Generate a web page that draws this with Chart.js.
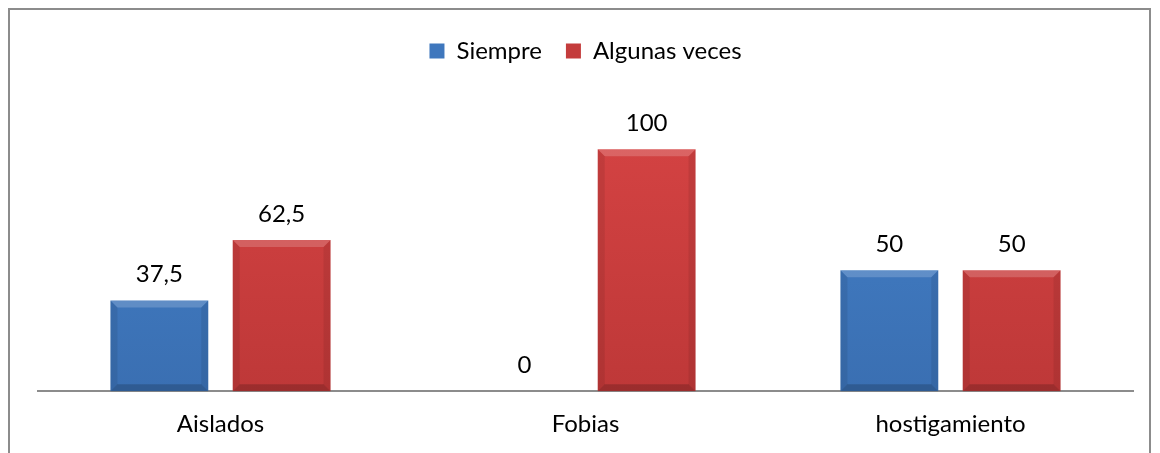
<!DOCTYPE html>
<html>
<head>
<meta charset="utf-8">
<script src="https://cdn.jsdelivr.net/npm/chart.js@4"></script>
<style>
  html, body { margin: 0; padding: 0; background: #fff; }
  #wrap { width: 1160px; height: 453px; position: relative; }
</style>
</head>
<body>
<div id="wrap"><canvas id="chart" width="1160" height="453"></canvas></div>
<script>
const categories = ["Aislados", "Fobias", "hostigamiento"];
const siempre = [37.5, 0, 50];
const algunasVeces = [62.5, 100, 50];
const seriesNames = ["Siempre", "Algunas veces"];

const FONT = "Lato, 'Open Sans', sans-serif";

// outer frame (top, left, right only — bottom is cut off in the picture)
const framePlugin = {
  id: 'frame',
  beforeDraw(chart) {
    const c = chart.ctx;
    c.save();
    c.strokeStyle = '#8c8c8c';
    c.lineWidth = 2;
    c.beginPath();
    c.moveTo(9, 460);
    c.lineTo(9, 9);
    c.lineTo(1150, 9);
    c.lineTo(1150, 460);
    c.stroke();
    c.restore();
  }
};

// bevelled edges on the bars
const bevelPlugin = {
  id: 'bevel',
  afterDatasetsDraw(chart) {
    const c = chart.ctx;
    chart.data.datasets.forEach((ds, i) => {
      chart.getDatasetMeta(i).data.forEach(bar => {
        const l = bar.x - bar.width / 2, r = bar.x + bar.width / 2;
        const t = bar.y, b = bar.base;
        if (b - t < 2) return;
        const d = Math.min(7, (b - t) / 2);
        c.save();
        c.fillStyle = 'rgba(255,255,255,0.18)';
        c.beginPath(); c.moveTo(l, t); c.lineTo(r, t); c.lineTo(r - d, t + d); c.lineTo(l + d, t + d); c.fill();
        c.fillStyle = 'rgba(0,0,0,0.08)';
        c.beginPath(); c.moveTo(l, t); c.lineTo(l + d, t + d); c.lineTo(l + d, b - d); c.lineTo(l, b); c.fill();
        c.beginPath(); c.moveTo(r, t); c.lineTo(r - d, t + d); c.lineTo(r - d, b - d); c.lineTo(r, b); c.fill();
        c.fillStyle = 'rgba(0,0,0,0.18)';
        c.beginPath(); c.moveTo(l, b); c.lineTo(l + d, b - d); c.lineTo(r - d, b - d); c.lineTo(r, b); c.fill();
        c.restore();
      });
    });
  }
};

// value labels above each bar, with decimal comma
const valueLabels = {
  id: 'valueLabels',
  afterDatasetsDraw(chart) {
    const c = chart.ctx;
    c.save();
    c.font = "24px " + FONT;
    c.fillStyle = '#000';
    c.textAlign = 'center';
    c.textBaseline = 'alphabetic';
    chart.data.datasets.forEach((ds, i) => {
      chart.getDatasetMeta(i).data.forEach((bar, j) => {
        const txt = String(ds.data[j]).replace('.', ',');
        c.fillText(txt, bar.x, bar.y - 18);
      });
    });
    c.restore();
  }
};

function vertGrad(top, bottom) {
  return function (context) {
    const area = context.chart.chartArea;
    if (!area) return top;
    const g = context.chart.ctx.createLinearGradient(0, area.top, 0, area.bottom);
    g.addColorStop(0, top);
    g.addColorStop(1, bottom);
    return g;
  };
}

new Chart(document.getElementById('chart'), {
  type: 'bar',
  data: {
    labels: categories,
    datasets: [
      {
        label: seriesNames[0],
        data: siempre,
        backgroundColor: vertGrad('#4583cc', '#3a6fb2'),
        borderWidth: 0,
        categoryPercentage: 0.67,
        barPercentage: 0.8
      },
      {
        label: seriesNames[1],
        data: algunasVeces,
        backgroundColor: vertGrad('#d94545', '#be3838'),
        borderWidth: 0,
        categoryPercentage: 0.67,
        barPercentage: 0.8
      }
    ]
  },
  options: {
    responsive: false,
    animation: false,
    layout: { padding: { left: 38, right: 27, top: 15, bottom: 3 } },
    plugins: {
      legend: {
        display: true,
        position: 'top',
        labels: {
          font: { family: FONT, size: 24 },
          color: '#000',
          boxWidth: 15,
          boxHeight: 15,
          padding: 24,
          generateLabels(chart) {
            const cols = ['#3f77bd', '#c43c3c'];
            return chart.data.datasets.map((ds, i) => ({
              text: ds.label, fillStyle: cols[i], strokeStyle: cols[i],
              lineWidth: 0, datasetIndex: i, fontColor: '#000'
            }));
          }
        }
      },
      tooltip: { enabled: false }
    },
    scales: {
      x: {
        grid: { display: false },
        border: { display: true, color: '#8c8c8c', width: 2 },
        ticks: { font: { family: FONT, size: 24 }, color: '#000', padding: 11 }
      },
      y: {
        display: false,
        min: 0,
        max: 131.5
      }
    }
  },
  plugins: [framePlugin, bevelPlugin, valueLabels]
});
</script>
</body>
</html>
